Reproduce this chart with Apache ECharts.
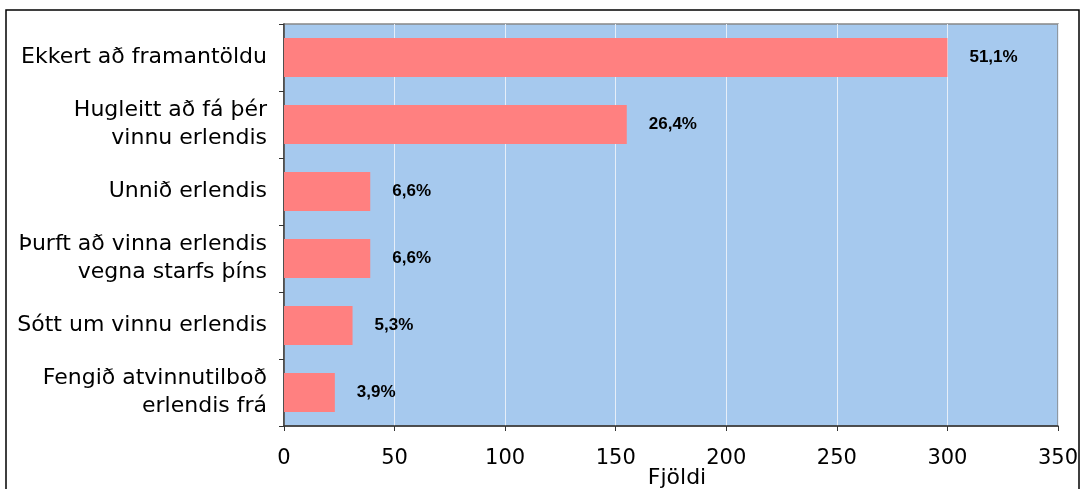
<!DOCTYPE html>
<html>
<head>
<meta charset="utf-8">
<script src="https://cdn.jsdelivr.net/npm/echarts@6/dist/echarts.min.js"></script>
<style>
html,body{margin:0;padding:0;background:#fff;}
#chart{width:1080px;height:489px;}
</style>
</head>
<body>
<div id="chart"></div>
<script>
const categories = [
  "Ekkert að framantöldu",
  "Hugleitt að fá þér\nvinnu erlendis",
  "Unnið erlendis",
  "Þurft að vinna erlendis\nvegna starfs þíns",
  "Sótt um vinnu erlendis",
  "Fengið atvinnutilboð\nerlendis frá"
];
const counts = [300, 155, 39, 39, 31, 23];
const percentLabels = ["51,1%", "26,4%", "6,6%", "6,6%", "5,3%", "3,9%"];
const xTicks = [0, 50, 100, 150, 200, 250, 300, 350];
const axisName = "Fjöldi";

const chart = echarts.init(document.getElementById('chart'));
const font = "'DejaVu Sans', Verdana, sans-serif";
chart.setOption({
  animation: false,
  backgroundColor: '#ffffff',
  grid: {
    left: 284, right: 22, top: 24, bottom: 63,
    containLabel: false, outerBoundsMode: 'none',
    show: true, backgroundColor: '#A6C9EE', borderColor: '#888888', borderWidth: 1.5
  },
  graphic: [{
    type: 'rect',
    shape: {x: 6, y: 10, width: 1073, height: 495},
    style: {fill: 'none', stroke: '#000', lineWidth: 1.5},
    silent: true
  }],
  xAxis: {
    type: 'value',
    min: xTicks[0], max: xTicks[xTicks.length - 1], interval: 50,
    name: axisName, nameLocation: 'middle', nameGap: 41, nameMoveOverlap: false,
    nameTextStyle: {fontFamily: font, fontSize: 22, color: '#000', padding: [0, 0, 0, 12]},
    axisLine: {show: true, lineStyle: {color: '#333', width: 1.5}},
    axisTick: {show: true, length: 5, lineStyle: {color: '#333'}},
    axisLabel: {fontFamily: font, fontSize: 21, color: '#000', margin: 22},
    splitLine: {show: true, lineStyle: {color: '#E6EEF8', width: 1}}
  },
  yAxis: {
    type: 'category',
    data: categories,
    inverse: true,
    axisLine: {show: true, lineStyle: {color: '#333', width: 1.5}},
    axisTick: {show: true, length: 5, lineStyle: {color: '#333'}},
    axisLabel: {fontFamily: font, fontSize: 22, color: '#000', margin: 17, lineHeight: 28, align: 'right', padding: [5, 0, 0, 0]},
    splitLine: {show: false}
  },
  series: [{
    type: 'bar',
    data: counts,
    barCategoryGap: '42%',
    itemStyle: {color: '#FF8080'},
    label: {
      show: true, position: 'right', distance: 22,
      fontFamily: "'Liberation Sans', Arial, sans-serif", fontWeight: 'bold', fontSize: 17, color: '#000',
      formatter: p => percentLabels[p.dataIndex]
    }
  }]
});
</script>
</body>
</html>
